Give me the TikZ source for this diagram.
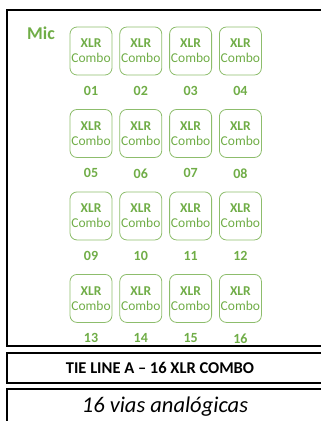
\documentclass[tikz,border=0pt]{standalone}
\usepackage{fontspec}
\setmainfont{Carlito}
\usepackage{xcolor}
\usetikzlibrary{positioning}
\definecolor{micgreen}{RGB}{112,173,71}

\begin{document}
\begin{tikzpicture}[
  x=1pt, y=1pt,
  node distance=10.5pt and 7pt,
  port/.style={draw=micgreen!80, rounded corners=7pt, line width=0.8pt, align=center,
               text=micgreen, minimum width=42pt, minimum height=48pt, inner sep=0pt,
               font=\fontsize{13.5}{15}\selectfont},
  num/.style={text=micgreen, inner sep=0pt, font=\fontsize{14}{15}\selectfont\bfseries},
  frame/.style={draw=black, line width=2.2pt}]
\useasboundingbox (0,0) rectangle (321,421);
% outer frames
\draw[frame] (7,75) rectangle (324,411);
\draw[frame] (7,38) rectangle (324,68);
\draw[frame] (7,-10) rectangle (324,32);
\node[text=micgreen, font=\fontsize{18}{19}\selectfont\bfseries] (mic) at (41,388) {Mic};
% row 1
\node[port] (x01) at (91,370) {\textbf{XLR}\\Combo};
\node[port, right=of x01] (x02) {\textbf{XLR}\\Combo};
\node[port, right=of x02] (x03) {\textbf{XLR}\\Combo};
\node[port, right=of x03] (x04) {\textbf{XLR}\\Combo};
\node[num, below=of x01] (n01) {01};
\node[num, below=of x02] (n02) {02};
\node[num, below=of x03] (n03) {03};
\node[num, below=of x04] (n04) {04};
% row 2
\node[port, below=13.5pt of n01] (x05) {\textbf{XLR}\\Combo};
\node[port, right=of x05] (x06) {\textbf{XLR}\\Combo};
\node[port, right=of x06] (x07) {\textbf{XLR}\\Combo};
\node[port, right=of x07] (x08) {\textbf{XLR}\\Combo};
\node[num, below=of x05] (n05) {05};
\node[num, below=of x06] (n06) {06};
\node[num, below=of x07] (n07) {07};
\node[num, below=of x08] (n08) {08};
% row 3
\node[port, below=13.5pt of n05] (x09) {\textbf{XLR}\\Combo};
\node[port, right=of x09] (x10) {\textbf{XLR}\\Combo};
\node[port, right=of x10] (x11) {\textbf{XLR}\\Combo};
\node[port, right=of x11] (x12) {\textbf{XLR}\\Combo};
\node[num, below=of x09] (n09) {09};
\node[num, below=of x10] (n10) {10};
\node[num, below=of x11] (n11) {11};
\node[num, below=of x12] (n12) {12};
% row 4
\node[port, below=13.5pt of n09] (x13) {\textbf{XLR}\\Combo};
\node[port, right=of x13] (x14) {\textbf{XLR}\\Combo};
\node[port, right=of x14] (x15) {\textbf{XLR}\\Combo};
\node[port, right=of x15] (x16) {\textbf{XLR}\\Combo};
\node[num, below=of x13] (n13) {13};
\node[num, below=of x14] (n14) {14};
\node[num, below=of x15] (n15) {15};
\node[num, below=of x16] (n16) {16};
% captions
\node[font=\fontsize{16.5}{18}\selectfont\bfseries] (tie) at (160,53) {TIE LINE A -- 16 XLR COMBO};
\node[font=\fontsize{22.5}{24}\selectfont\itshape] (vias) at (165,14) {16 vias analógicas};
\end{tikzpicture}
\end{document}
